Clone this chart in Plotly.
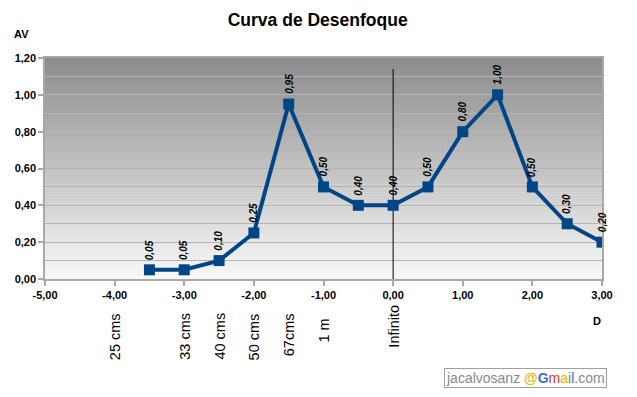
import plotly.graph_objects as go

# ---- data ----
diopters = [-3.5, -3.0, -2.5, -2.0, -1.5, -1.0, -0.5, 0.0, 0.5, 1.0, 1.5, 2.0, 2.5, 3.0]
av_values = [0.05, 0.05, 0.10, 0.25, 0.95, 0.50, 0.40, 0.40, 0.50, 0.80, 1.00, 0.50, 0.30, 0.20]
distance_pos = [-4.0, -3.0, -2.5, -2.0, -1.5, -1.0, 0.0]
distance_labels = ["25 cms", "33 cms", "40 cms", "50 cms", "67cms", "1 m", "Infinito"]
x_tickvals = [-5, -4, -3, -2, -1, 0, 1, 2, 3]
x_ticktext = ["-5,00", "-4,00", "-3,00", "-2,00", "-1,00", "0,00", "1,00", "2,00", "3,00"]
y_tickvals = [0, 0.2, 0.4, 0.6, 0.8, 1.0, 1.2]
y_ticktext = ["0,00", "0,20", "0,40", "0,60", "0,80", "1,00", "1,20"]
title_text = "Curva de Desenfoque"
x_range = [-5, 3]
y_range = [0, 1.2]

# ---- style ----
W, H = 637, 397
M_L, M_R, M_T, M_B = 45, 35, 58, 118
line_color = "#004687"
grid_color = "#b4b4b4"
axis_color = "#a8a8a8"
top_grey = (0x8c, 0x8c, 0x8c)
bot_grey = (0xf8, 0xf8, 0xf8)
base_font = "Liberation Sans, Arial, sans-serif"

fig = go.Figure()

fig.add_trace(go.Scatter(
    x=diopters, y=av_values, mode="lines+markers",
    line=dict(color=line_color, width=4),
    marker=dict(symbol="square", size=11, color=line_color),
    hoverinfo="x+y", showlegend=False,
))

shapes = []
# gradient background (drawn below gridlines)
n_steps = 110
for i in range(n_steps):
    t = i / (n_steps - 1)
    c = tuple(round(b + (a - b) * t) for a, b in zip(top_grey, bot_grey))
    y0 = i / n_steps
    y1 = (i + 1) / n_steps + 0.002
    shapes.append(dict(type="rect", xref="paper", yref="paper",
                       x0=0, x1=1, y0=y0, y1=min(y1, 1),
                       fillcolor="rgb(%d,%d,%d)" % c, line=dict(width=0),
                       layer="below"))
# vertical reference line at 0 diopters (above gridlines, below the series)
shapes.append(dict(type="line", xref="x", yref="y", x0=0, x1=0, y0=0, y1=1.14,
                   line=dict(color="black", width=1), layer="between"))

annotations = []
# data labels
for xv, yv in zip(diopters, av_values):
    annotations.append(dict(
        x=xv, y=yv, xref="x", yref="y", text=("%.2f" % yv).replace(".", ","),
        showarrow=False, textangle=-90, yanchor="bottom", xanchor="center",
        yshift=8, font=dict(family=base_font, size=10, color="black",
                            weight="bold", style="italic"),
    ))

plot_h = H - M_T - M_B
plot_w = W - M_L - M_R

# distance labels under x axis
label_top_px = {"1 m": 317, "Infinito": 303}
for xv, lab in zip(distance_pos, distance_labels):
    top_px = label_top_px.get(lab, 311)
    annotations.append(dict(
        x=xv, y=-(top_px - (H - M_B)) / plot_h, xref="x", yref="paper",
        text=lab, showarrow=False, textangle=-90, yanchor="top", xanchor="center",
        font=dict(family=base_font, size=14.5, color="black"),
    ))

# axis titles
annotations.append(dict(x=(22 - M_L) / plot_w, y=(H - M_B - 34) / plot_h,
                        xref="paper", yref="paper", text="AV", showarrow=False,
                        xanchor="center", yanchor="middle",
                        font=dict(family=base_font, size=11, color="black", weight="bold")))
annotations.append(dict(x=(597 - M_L) / plot_w, y=(H - M_B - 321) / plot_h,
                        xref="paper", yref="paper", text="D", showarrow=False,
                        xanchor="center", yanchor="middle",
                        font=dict(family=base_font, size=11, color="black", weight="bold")))
# email badge
annotations.append(dict(
    x=(607 - M_L) / plot_w, y=(H - M_B - 378) / plot_h, xref="paper", yref="paper",
    xanchor="right", yanchor="middle", showarrow=False,
    text=("<span style='color:#8a8a8a'>jacalvosanz </span>"
          "<span style='color:#f5b400'><b>@</b></span>"
          "<span style='color:#3b6fd8'><b>G</b></span>"
          "<span style='color:#d93a2b'>m</span>"
          "<span style='color:#f5b400'>a</span>"
          "<span style='color:#3aa655'>i</span>"
          "<span style='color:#3b6fd8'>l</span>"
          "<span style='color:#8a8a8a'>.com</span>"),
    font=dict(family=base_font, size=14), bgcolor="white",
    bordercolor="#a0a0a0", borderwidth=1, borderpad=1,
))

fig.update_layout(
    width=W, height=H,
    margin=dict(l=M_L, r=M_R, t=M_T, b=M_B, pad=0),
    paper_bgcolor="white", plot_bgcolor="white",
    separators=",.",
    title=dict(text="<b>" + title_text + "</b>", x=317.7 / W, xanchor="center",
               y=1 - 19.5 / H, yanchor="middle",
               font=dict(family=base_font, size=17.5, color="black")),
    shapes=shapes, annotations=annotations,
    xaxis=dict(range=x_range, tickmode="array", tickvals=x_tickvals, ticktext=x_ticktext,
               showgrid=False, zeroline=False,
               showline=True, linecolor=axis_color, linewidth=1.5, mirror=True,
               ticks="outside", ticklen=5, tickcolor=axis_color, tickwidth=1.5,
               tickfont=dict(family=base_font, size=11, color="black", weight="bold")),
    yaxis=dict(range=y_range, tickmode="array", tickvals=y_tickvals, ticktext=y_ticktext,
               showgrid=True, gridcolor=grid_color, gridwidth=1,
               minor=dict(dtick=0.1, tick0=0, showgrid=True, gridcolor=grid_color, gridwidth=1),
               zeroline=False,
               showline=True, linecolor=axis_color, linewidth=1.5, mirror=True,
               ticks="outside", ticklen=5, tickcolor=axis_color, tickwidth=1.5,
               tickfont=dict(family=base_font, size=11, color="black", weight="bold")),
)

fig.write_html("out.html", config={"displayModeBar": False},
               post_script="document.body.style.margin='0';")
